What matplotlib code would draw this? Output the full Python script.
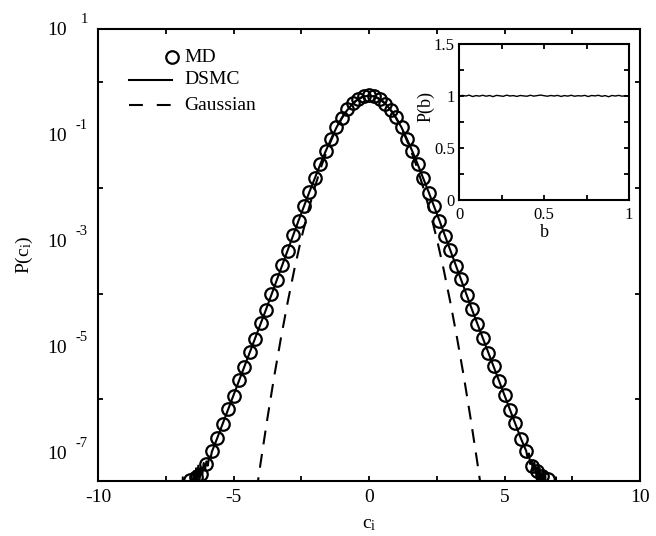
import numpy as np
import matplotlib
matplotlib.use('Agg')
import matplotlib.pyplot as plt
import matplotlib.transforms as mtransforms
from matplotlib.ticker import FixedLocator, NullLocator, NullFormatter
from matplotlib.lines import Line2D

plt.rcParams['font.family'] = ['Liberation Serif', 'DejaVu Serif']
plt.rcParams['mathtext.fontset'] = 'custom'
plt.rcParams['mathtext.rm'] = 'Liberation Serif'
plt.rcParams['mathtext.it'] = 'Liberation Serif:italic'
plt.rcParams['lines.scale_dashes'] = False
plt.rcParams['axes.unicode_minus'] = False

# MD histogram (circles), log10 P(c_i)
md_c = [-6.6, -6.4, -6.2, -6.0, -5.8, -5.6, -5.4, -5.2, -5.0, -4.8, -4.6, -4.4, -4.2,
        -4.0, -3.8, -3.6, -3.4, -3.2, -3.0, -2.8, -2.6, -2.4, -2.2, -2.0, -1.8,
        -1.6, -1.4, -1.2, -1.0, -0.8, -0.6, -0.4, -0.2, 0.0,
        0.2, 0.4, 0.6, 0.8, 1.0, 1.2, 1.4, 1.6, 1.8, 2.0, 2.2, 2.4,
        2.6, 2.8, 3.0, 3.2, 3.4, 3.6, 3.8, 4.0, 4.2, 4.4, 4.6, 4.8,
        5.0, 5.2, 5.4, 5.6, 5.8, 6.0, 6.2, 6.4, 6.6]
md_logp = [-7.52, -7.46, -7.40, -7.22, -6.98, -6.72, -6.47, -6.18, -5.93, -5.64, -5.39, -5.10, -4.85,
           -4.56, -4.31, -4.01, -3.75, -3.46, -3.19, -2.90, -2.63, -2.35, -2.08, -1.82, -1.56,
           -1.31, -1.08, -0.86, -0.68, -0.52, -0.40, -0.32, -0.27, -0.255,
           -0.27, -0.32, -0.41, -0.53, -0.67, -0.85, -1.07, -1.30, -1.55, -1.81, -2.09, -2.34,
           -2.62, -2.91, -3.17, -3.47, -3.73, -4.03, -4.29, -4.58, -4.83, -5.12, -5.37, -5.66,
           -5.91, -6.20, -6.45, -6.74, -6.97, -7.25, -7.36, -7.44, -7.50]

# DSMC histogram (solid line), log10 P(c_i)
dsmc_c = [-6.93, -6.87, -6.84, -6.6, -6.55, -6.5, -6.45, -6.42, -6.38, -6.35, -6.3, -6.25,
          -6.2, -6.15, -6.1, -6.05, -6.0, -5.95, -5.9, -5.85, -5.8,
          -5.6, -5.4, -5.2, -5.0, -4.8, -4.6, -4.4, -4.2, -4.0, -3.8, -3.6, -3.4,
          -3.2, -3.0, -2.8, -2.6, -2.4, -2.2, -2.0, -1.8, -1.6, -1.4, -1.2, -1.0,
          -0.8, -0.6, -0.4, -0.2, 0.0, 0.2, 0.4, 0.6, 0.8, 1.0, 1.2, 1.4,
          1.6, 1.8, 2.0, 2.2, 2.4, 2.6, 2.8, 3.0, 3.2, 3.4, 3.6, 3.8,
          4.0, 4.2, 4.4, 4.6, 4.8, 5.0, 5.2, 5.4, 5.6,
          5.8, 5.85, 5.9, 5.95, 6.0, 6.05, 6.1, 6.15, 6.2, 6.25, 6.3, 6.35,
          6.4, 6.45, 6.5, 6.55, 6.6, 6.87, 6.9, 6.93]
dsmc_logp = [-8.5, -7.47, -8.5, -8.2, -7.40, -7.9, -7.35, -7.8, -7.30, -7.6, -7.25, -7.5,
             -7.30, -7.42, -7.20, -7.32, -7.17, -7.25, -7.08, -7.12, -6.99,
             -6.73, -6.46, -6.19, -5.92, -5.65, -5.38, -5.11, -4.84, -4.57, -4.30, -4.02, -3.74,
             -3.46, -3.18, -2.90, -2.62, -2.35, -2.08, -1.82, -1.56, -1.31, -1.08, -0.86, -0.68,
             -0.53, -0.41, -0.33, -0.275, -0.26, -0.275, -0.33, -0.41, -0.53, -0.68, -0.86, -1.08,
             -1.31, -1.56, -1.82, -2.08, -2.35, -2.62, -2.90, -3.18, -3.46, -3.74, -4.02, -4.30,
             -4.57, -4.84, -5.11, -5.38, -5.65, -5.92, -6.19, -6.46, -6.73,
             -6.97, -7.10, -7.02, -7.22, -7.15, -7.35, -7.18, -7.40, -7.28, -7.55, -7.30, -7.65,
             -7.35, -7.8, -7.38, -7.9, -8.3, -8.3, -7.47, -8.5]

# Gaussian reference (dashed), log10 P(c_i)
gauss_c = [-4.15, -4.0, -3.75, -3.5, -3.25, -3.0, -2.75, -2.5, -2.25, -2.0, -1.75, -1.5,
           -1.25, -1.0, -0.75, -0.5, -0.25, 0.0, 0.25, 0.5, 0.75, 1.0, 1.25, 1.5,
           1.75, 2.0, 2.25, 2.5, 2.75, 3.0, 3.25, 3.5, 3.75, 4.0, 4.15]
gauss_logp = [-7.73, -7.20, -6.36, -5.57, -4.84, -4.16, -3.53, -2.96, -2.45, -1.99, -1.58, -1.23,
              -0.93, -0.68, -0.49, -0.36, -0.28, -0.25, -0.28, -0.36, -0.49, -0.68, -0.93, -1.23,
              -1.58, -1.99, -2.45, -2.96, -3.53, -4.16, -4.84, -5.57, -6.36, -7.20, -7.73]

# inset: distribution of impact parameter b
b_vals = [0.0, 0.02, 0.04, 0.06, 0.08, 0.1, 0.12, 0.14, 0.16, 0.18, 0.2, 0.22, 0.24,
          0.26, 0.28, 0.3, 0.32, 0.34, 0.36, 0.38, 0.4, 0.42, 0.44, 0.46, 0.48, 0.5,
          0.52, 0.54, 0.56, 0.58, 0.6, 0.62, 0.64, 0.66, 0.68, 0.7, 0.72, 0.74, 0.76,
          0.78, 0.8, 0.82, 0.84, 0.86, 0.88, 0.9, 0.92, 0.94, 0.96, 0.98, 1.0]
pb_vals = [0.995, 1.004, 0.998, 1.006, 0.993, 1.002, 0.997, 1.005, 0.996, 1.003, 0.992, 1.004,
           1.000, 0.995, 1.006, 0.998, 1.002, 0.994, 1.003, 0.999, 0.996, 1.005, 0.997, 1.002,
           1.007, 1.001, 0.996, 1.003, 0.998, 1.004, 0.994, 1.002, 0.997, 1.005, 0.996, 1.001,
           0.998, 1.004, 0.993, 1.003, 0.999, 1.005, 0.995, 1.002, 0.991, 1.003, 0.998, 1.004,
           0.996, 1.002, 0.999]

W, H = 656, 536
fig = plt.figure(figsize=(W / 100, H / 100), dpi=100)
ax = fig.add_axes([98 / W, 1 - 481 / H, 542 / W, 452 / H])

ax.plot(dsmc_c, 10 ** np.array(dsmc_logp), color='black', lw=1.5, zorder=3)
ax.plot(md_c, 10 ** np.array(md_logp), 'o', mfc='none', mec='black', ms=9, mew=1.6, zorder=4)
ax.plot(gauss_c, 10 ** np.array(gauss_logp), color='black', lw=1.5, dashes=(10, 7), zorder=2)

ax.set_xlim(-10, 10)
ax.set_yscale('log')
ax.set_ylim(10 ** -7.54, 10)

ax.xaxis.set_major_locator(FixedLocator([-10, -5, 0, 5, 10]))
ax.xaxis.set_minor_locator(FixedLocator([-7.5, -2.5, 2.5, 7.5]))
ax.set_xticklabels(['-10', '-5', '0', '5', '10'])
ax.yaxis.set_major_locator(FixedLocator([1, 1e-2, 1e-4, 1e-6]))
ax.yaxis.set_minor_locator(NullLocator())
ax.yaxis.set_major_formatter(NullFormatter())
ax.tick_params(which='both', direction='in', top=True, right=True, length=3.5, width=1.3,
               labelsize=14)
ax.tick_params(axis='x', pad=6)
for s in ax.spines.values():
    s.set_linewidth(1.5)

# y tick labels in "10 -n" style
trans = mtransforms.blended_transform_factory(ax.transAxes, ax.transData)
for e in [1, -1, -3, -5, -7]:
    t1 = mtransforms.offset_copy(trans, fig=fig, x=0, y=-2, units='dots')
    t2 = mtransforms.offset_copy(trans, fig=fig, x=0, y=9, units='dots')
    ax.text(-0.057, 10.0 ** e, '10', transform=t1, ha='right', va='center', fontsize=14)
    ax.text(-0.0185, 10.0 ** e, str(e), transform=t2, ha='right', va='center', fontsize=10.5)

ax.set_xlabel(r'c$_\mathregular{i}$', fontsize=14, labelpad=7)
ax.set_ylabel(r'P(c$_\mathregular{i}$)', fontsize=14, labelpad=42)

# legend drawn by hand, Kaleidagraph style
leg_y = [57, 80, 105]
ax.add_line(Line2D([172 / W], [1 - leg_y[0] / H], transform=fig.transFigure, marker='o',
                   mfc='none', mec='black', ms=9, mew=1.6))
ax.add_line(Line2D([129 / W, 172 / W], [1 - leg_y[1] / H] * 2, transform=fig.transFigure,
                   color='black', lw=1.5))
ax.add_line(Line2D([129 / W, 172 / W], [1 - leg_y[2] / H] * 2, transform=fig.transFigure,
                   color='black', lw=1.5, dashes=(10, 10)))
for yy, lab in zip(leg_y, ['MD', 'DSMC', 'Gaussian']):
    fig.text(184 / W, 1 - yy / H, lab, ha='left', va='center', fontsize=14)

# inset
axi = fig.add_axes([459 / W, 1 - 200 / H, 170 / W, 156.3 / H])
axi.plot(b_vals, pb_vals, color='black', lw=1.0)
axi.set_xlim(0, 1)
axi.set_ylim(0, 1.5)
axi.xaxis.set_major_locator(FixedLocator([0, 0.5, 1]))
axi.xaxis.set_minor_locator(FixedLocator([0.25, 0.75]))
axi.yaxis.set_major_locator(FixedLocator([0, 0.5, 1, 1.5]))
axi.yaxis.set_minor_locator(FixedLocator([0.25, 0.75, 1.25]))
axi.set_xticklabels(['0', '0.5', '1'])
axi.set_yticklabels(['0', '0.5', '1', '1.5'])
axi.tick_params(which='both', direction='in', top=True, right=True, length=3.5, width=1.3,
                labelsize=12, pad=3)
axi.tick_params(axis='x', pad=5)
for s in axi.spines.values():
    s.set_linewidth(1.5)
axi.set_xlabel('b', fontsize=13, labelpad=1)
axi.set_ylabel('P(b)', fontsize=13)
axi.yaxis.set_label_coords(-0.145, 0.6)

fig.savefig('out.png', dpi=100)
